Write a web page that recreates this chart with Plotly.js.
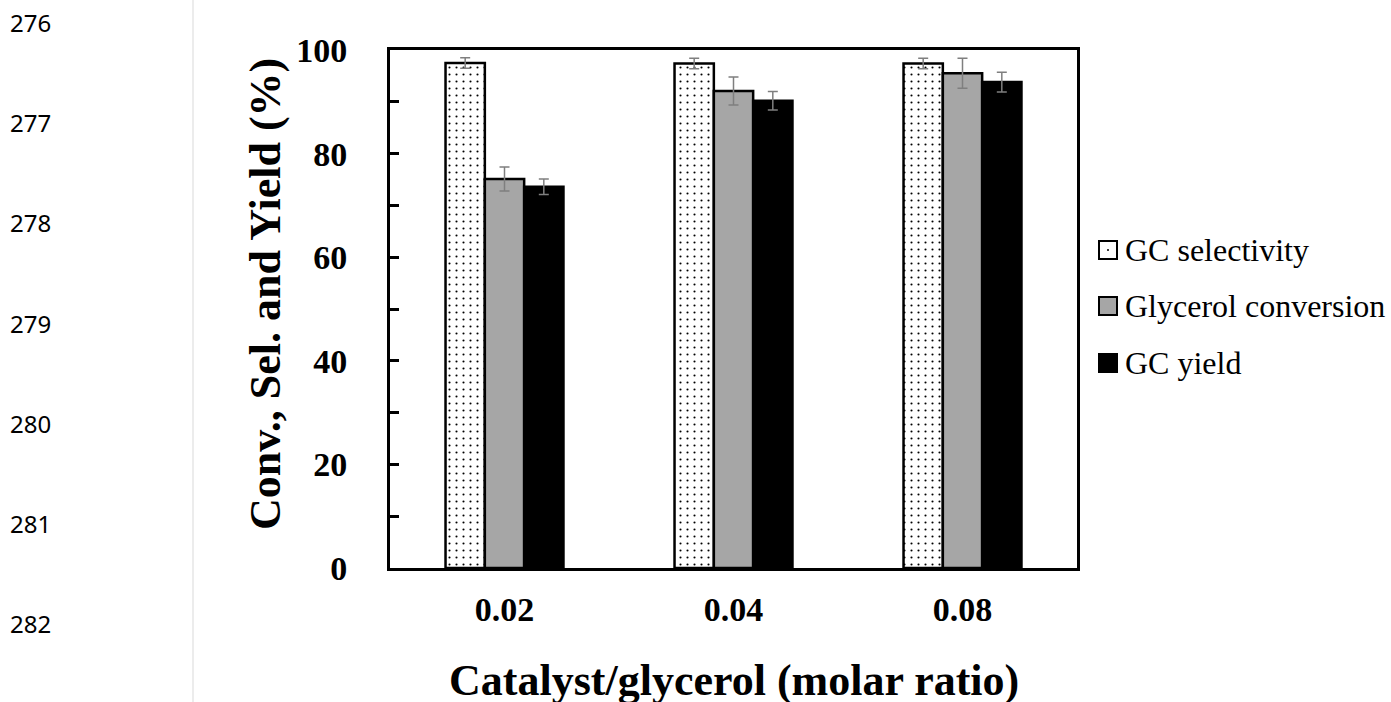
<!DOCTYPE html>
<html>
<head>
<meta charset="utf-8">
<script src="https://cdn.plot.ly/plotly-3.0.1.min.js"></script>
<style>
html,body{margin:0;padding:0;background:#fff;}
#chart{width:1391px;height:702px;}
</style>
</head>
<body>
<div id="chart"></div>
<script>
// ---- data ----
const categories = ['0.02', '0.04', '0.08'];
const seriesNames = ['GC selectivity', 'Glycerol conversion', 'GC yield'];
const gcSelectivity = [97.5, 97.4, 97.4];
const gcSelectivityErr = [1.0, 1.0, 1.0];
const glycerolConversion = [75.1, 92.1, 95.5];
const glycerolConversionErr = [2.3, 2.7, 2.9];
const gcYield = [73.6, 90.2, 93.8];
const gcYieldErr = [1.5, 1.8, 1.9];
const yTickVals = [0, 20, 40, 60, 80, 100];
const lineNumbers = ['276', '277', '278', '279', '280', '281', '282'];
const xTitle = 'Catalyst/glycerol (molar ratio)';
const yTitle = 'Conv., Sel. and Yield (%)';

// ---- styles ----
const seriesFill = ['#ffffff', '#a6a6a6', '#000000'];

// ---- layout geometry ----
const W = 1391, H = 702;
const M = {l: 390, r: 314, t: 50, b: 134, autoexpand: false};
const plotW = W - M.l - M.r, plotH = H - M.t - M.b;
const px2x = px => (px - M.l) / plotW;
const py2y = py => (H - M.b - py) / plotH;

const serif = 'Liberation Serif';
const errStyle = {type: 'data', visible: true, color: '#7f7f7f', thickness: 1.5, width: 5};

const traces = [
  {
    type: 'bar', name: seriesNames[0], x: categories, y: gcSelectivity,
    error_y: Object.assign({array: gcSelectivityErr}, errStyle),
    marker: {color: seriesFill[0], line: {color: '#000000', width: 2.5},
             pattern: {shape: '.', fgcolor: '#000000', bgcolor: '#ffffff', size: 7, solidity: 0.07}}
  },
  {
    type: 'bar', name: seriesNames[1], x: categories, y: glycerolConversion,
    error_y: Object.assign({array: glycerolConversionErr}, errStyle),
    marker: {color: seriesFill[1], line: {color: '#000000', width: 2.5}}
  },
  {
    type: 'bar', name: seriesNames[2], x: categories, y: gcYield,
    error_y: Object.assign({array: gcYieldErr}, errStyle),
    marker: {color: seriesFill[2], line: {color: '#000000', width: 2.5}}
  }
];

const lineNumberAnnotations = lineNumbers.map((t, i) => ({
  text: t, xref: 'paper', yref: 'paper',
  x: px2x(30), y: py2y(22.5 + i * 100.2),
  xanchor: 'center', yanchor: 'middle', showarrow: false,
  font: {family: 'Noto Sans', size: 24, color: '#000'}
}));

const titleAnnotations = [
  {
    text: yTitle, textangle: -90,
    xref: 'paper', yref: 'paper', x: px2x(265), y: py2y(294),
    xanchor: 'center', yanchor: 'middle', showarrow: false,
    font: {family: serif, size: 44, color: '#000', weight: 'bold'}
  },
  {
    text: xTitle,
    xref: 'paper', yref: 'paper', x: 0.5, y: py2y(680),
    xanchor: 'center', yanchor: 'middle', showarrow: false,
    font: {family: serif, size: 44, color: '#000', weight: 'bold'}
  }
];

// legend (drawn as swatches + serif text)
const legendRowY = [250, 306, 363];
const legendSwatchX = [1099, 1117];
const legendTextX = 1123;
const legendAnnotations = seriesNames.map((n, i) => ({
  text: n, xref: 'paper', yref: 'paper',
  x: px2x(legendTextX), y: py2y(legendRowY[i]),
  xanchor: 'left', yanchor: 'middle', showarrow: false,
  font: {family: serif, size: 32, color: '#000'}
}));
const legendShapes = seriesNames.map((n, i) => ({
  type: 'rect', xref: 'paper', yref: 'paper',
  x0: px2x(legendSwatchX[0]), x1: px2x(legendSwatchX[1]),
  y0: py2y(legendRowY[i] - 9), y1: py2y(legendRowY[i] + 9),
  fillcolor: seriesFill[i], line: {color: '#000', width: 2}
})).concat([{
  type: 'circle', xref: 'paper', yref: 'paper',
  x0: px2x(1107), x1: px2x(1109), y0: py2y(legendRowY[0] - 1), y1: py2y(legendRowY[0] + 1),
  fillcolor: '#000', line: {width: 0}
}]);

const layout = {
  width: W, height: H,
  margin: M,
  font: {family: serif, color: '#000'},
  paper_bgcolor: '#ffffff', plot_bgcolor: '#ffffff',
  barmode: 'group', bargap: 0.485, bargroupgap: 0,
  showlegend: false,
  xaxis: {
    type: 'category', showline: true, mirror: true, linecolor: '#000', linewidth: 3,
    ticks: '', showgrid: false, zeroline: false,
    tickfont: {family: serif, size: 34, color: '#000', weight: 'bold'},
    ticklabelstandoff: 9,
    automargin: false
  },
  yaxis: {
    range: [0, 100], tickvals: yTickVals, showline: true, mirror: true,
    linecolor: '#000', linewidth: 3,
    ticks: 'inside', ticklen: 9, tickwidth: 3, tickcolor: '#000',
    minor: {dtick: 10, ticks: 'inside', ticklen: 9, tickwidth: 3, tickcolor: '#000'},
    showgrid: false, zeroline: false,
    tickfont: {family: serif, size: 34, color: '#000', weight: 'bold'},
    ticklabelstandoff: 33,
    automargin: false
  },
  annotations: lineNumberAnnotations.concat(titleAnnotations, legendAnnotations),
  shapes: [{
    type: 'line', xref: 'paper', yref: 'paper',
    x0: px2x(193), x1: px2x(193), y0: py2y(H), y1: py2y(0),
    line: {color: '#d9d9d9', width: 1}
  }].concat(legendShapes)
};

Plotly.newPlot('chart', traces, layout, {displayModeBar: false, staticPlot: true});
</script>
</body>
</html>
